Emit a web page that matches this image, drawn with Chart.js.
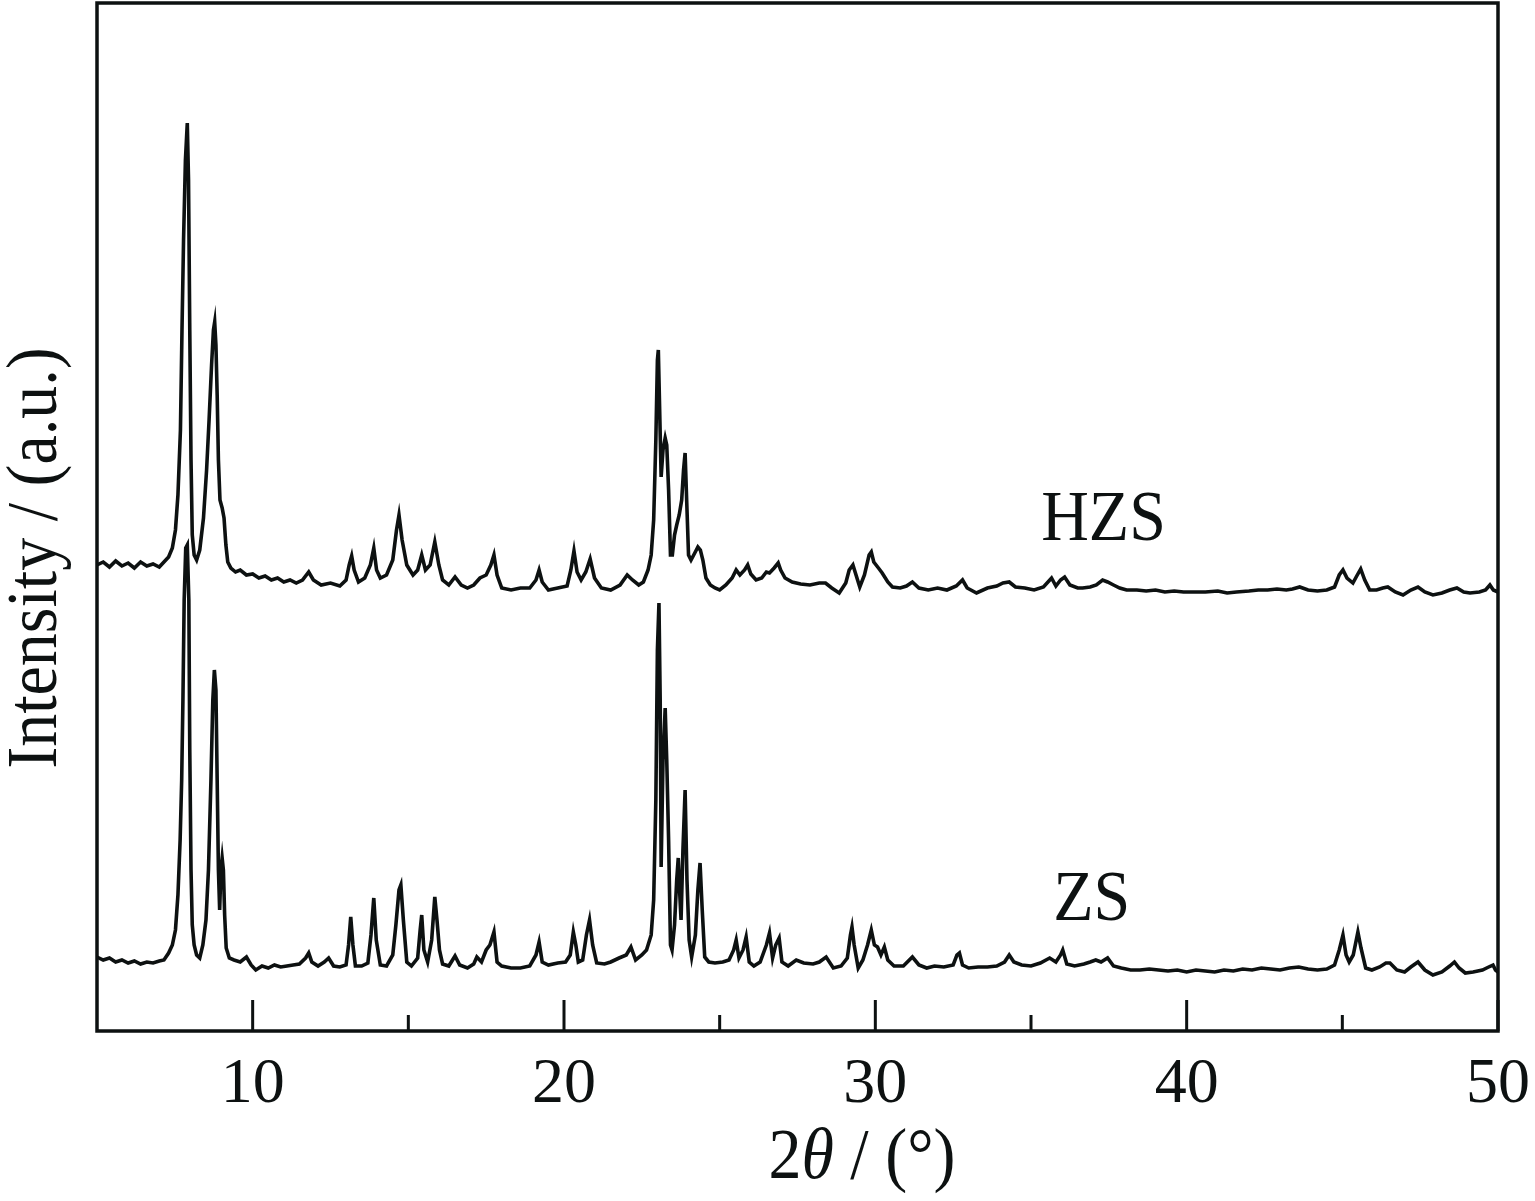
<!DOCTYPE html>
<html>
<head>
<meta charset="utf-8">
<script src="https://cdn.jsdelivr.net/npm/chart.js@4.4.1/dist/chart.umd.min.js"></script>
<style>
  html, body { margin: 0; padding: 0; background: #fff; }
</style>
</head>
<body>
<canvas id="xrdChart" width="1535" height="1201"></canvas>
<script>
// HZS pattern (upper trace), 2theta in degrees / intensity in a.u.
const hzsAngle = [5.0,5.2,5.4,5.6,5.8,6.0,6.2,6.4,6.6,6.8,7.0,7.15,7.3,7.42,7.52,7.6,7.68,7.73,7.78,7.84,7.9,7.94,7.98,8.02,8.06,8.12,8.2,8.3,8.42,8.52,8.6,8.68,8.74,8.78,8.82,8.86,8.9,8.95,9.02,9.08,9.14,9.2,9.3,9.45,9.6,9.8,10.0,10.2,10.4,10.6,10.8,11.0,11.2,11.4,11.6,11.8,11.95,12.2,12.5,12.8,13.0,13.1,13.18,13.26,13.4,13.6,13.78,13.89,13.98,14.1,14.3,14.5,14.62,14.7,14.8,14.95,15.15,15.3,15.43,15.55,15.7,15.85,15.98,16.1,16.3,16.5,16.7,16.9,17.1,17.3,17.5,17.65,17.75,17.85,18.0,18.3,18.6,18.9,19.1,19.2,19.3,19.5,19.8,20.1,20.22,20.32,20.42,20.55,20.7,20.84,20.98,21.2,21.5,21.8,22.03,22.2,22.4,22.55,22.7,22.8,22.88,22.95,23.0,23.03,23.08,23.12,23.18,23.25,23.3,23.36,23.42,23.48,23.55,23.62,23.7,23.78,23.84,23.89,23.94,24.0,24.08,24.2,24.3,24.38,24.46,24.56,24.7,24.85,25.0,25.2,25.4,25.53,25.65,25.8,25.9,26.0,26.17,26.35,26.5,26.6,26.75,26.88,26.96,27.1,27.33,27.6,27.9,28.2,28.4,28.6,28.84,29.05,29.16,29.28,29.38,29.5,29.65,29.8,29.87,29.95,30.1,30.22,30.4,30.55,30.8,31.0,31.19,31.4,31.7,32.0,32.3,32.6,32.8,32.95,33.25,33.6,33.9,34.1,34.3,34.5,34.8,35.1,35.4,35.66,35.8,35.95,36.08,36.25,36.5,36.66,36.9,37.1,37.3,37.46,37.65,37.85,38.07,38.4,38.7,39.0,39.3,39.6,39.9,40.32,40.6,41.0,41.3,41.6,42.0,42.3,42.6,42.9,43.2,43.4,43.63,43.9,44.2,44.5,44.75,44.9,45.02,45.15,45.34,45.48,45.59,45.72,45.88,46.1,46.3,46.46,46.7,46.95,47.2,47.43,47.65,47.91,48.2,48.45,48.68,48.9,49.1,49.4,49.6,49.74,49.85,50.0];
const hzsIntensity = [466,469,464,470,465,468,463,469,465,467,464,469,474,483,501,536,601,701,791,871,908,851,701,571,496,476,471,481,513,561,611,666,701,709,686,636,571,531,523,513,486,469,463,459,461,456,457,453,455,451,453,449,451,448,451,459,451,446,448,445,451,466,475,461,449,453,466,483,461,453,456,471,501,516,491,466,456,461,476,461,466,489,466,451,446,454,446,443,446,453,456,466,476,456,443,441,443,443,451,461,449,441,443,445,461,480,459,451,459,472,453,443,441,446,456,451,446,449,461,476,511,591,671,681,611,554,581,593,586,541,476,476,496,506,516,531,561,578,531,476,471,478,484,481,471,453,446,443,441,446,453,461,456,461,466,457,451,453,459,458,463,468,461,453,449,447,446,448,448,443,438,448,461,466,456,444,456,476,479,469,463,458,449,444,443,445,449,443,441,443,441,445,451,443,438,443,445,448,449,444,443,441,444,453,445,451,454,446,443,443,444,446,451,449,446,443,441,441,440,441,439,440,439,439,439,440,438,439,440,441,441,442,441,442,444,441,440,441,444,456,461,453,448,456,462,451,441,441,443,444,439,436,441,444,439,436,438,441,443,439,438,439,441,446,441,439];

// ZS pattern (lower trace)
const zsAngle = [5.0,5.2,5.4,5.6,5.8,6.0,6.2,6.4,6.6,6.8,7.0,7.15,7.3,7.42,7.52,7.6,7.67,7.72,7.76,7.8,7.85,7.9,7.95,7.98,8.02,8.06,8.12,8.2,8.3,8.4,8.5,8.58,8.66,8.72,8.77,8.82,8.86,8.9,8.94,8.98,9.02,9.06,9.1,9.15,9.25,9.4,9.6,9.8,9.95,10.1,10.3,10.5,10.7,10.9,11.1,11.3,11.5,11.7,11.8,11.9,12.1,12.3,12.44,12.6,12.8,13.0,13.08,13.15,13.22,13.3,13.5,13.7,13.8,13.89,13.97,14.1,14.3,14.5,14.6,14.7,14.76,14.84,14.95,15.1,15.3,15.38,15.43,15.5,15.62,15.75,15.85,15.92,16.0,16.1,16.3,16.5,16.65,16.9,17.1,17.2,17.35,17.5,17.62,17.75,17.85,18.0,18.3,18.6,18.9,19.1,19.2,19.3,19.5,19.8,20.05,20.2,20.3,20.38,20.46,20.6,20.72,20.82,20.92,21.05,21.3,21.5,21.77,22.0,22.15,22.3,22.5,22.65,22.8,22.88,22.95,23.0,23.05,23.09,23.12,23.18,23.25,23.3,23.36,23.42,23.47,23.55,23.62,23.67,23.72,23.76,23.82,23.89,23.95,24.02,24.1,24.22,24.3,24.37,24.44,24.52,24.65,24.85,25.1,25.3,25.45,25.53,25.62,25.75,25.85,25.95,26.1,26.3,26.5,26.6,26.7,26.8,26.91,27.0,27.2,27.46,27.7,28.0,28.2,28.42,28.65,28.9,29.1,29.2,29.25,29.32,29.45,29.6,29.75,29.87,29.97,30.07,30.18,30.29,30.4,30.6,30.9,31.19,31.4,31.65,31.9,32.2,32.5,32.62,32.7,32.8,33.0,33.3,33.6,33.9,34.15,34.3,34.45,34.7,35.0,35.3,35.6,35.8,35.95,36.02,36.15,36.4,36.7,36.9,37.08,37.25,37.46,37.65,37.9,38.2,38.5,38.8,39.1,39.4,39.7,40.0,40.3,40.6,40.9,41.2,41.5,41.8,42.1,42.4,42.7,43.0,43.3,43.6,43.9,44.2,44.5,44.75,44.9,45.02,45.12,45.22,45.35,45.5,45.6,45.75,45.95,46.2,46.4,46.53,46.75,47.0,47.2,47.43,47.65,47.91,48.2,48.45,48.6,48.75,48.95,49.2,49.5,49.7,49.84,49.92,50.0];
const zsIntensity = [74,71,73,69,71,68,70,67,69,68,70,71,78,86,101,136,191,251,331,431,483,486,431,281,161,106,86,76,73,86,111,161,251,331,361,341,251,161,121,161,173,161,116,83,73,71,69,74,66,61,65,63,66,64,65,66,67,73,78,69,65,69,73,65,64,66,86,114,86,65,65,68,96,133,91,66,65,76,106,141,146,111,69,65,73,101,116,81,69,91,134,111,81,67,65,75,66,63,67,74,69,81,86,99,69,65,63,63,65,76,89,69,66,68,69,76,99,86,69,71,96,111,86,68,67,69,73,76,84,71,76,81,96,131,231,381,428,331,164,271,323,271,191,86,81,106,151,173,136,111,181,241,151,91,74,96,141,168,121,74,69,68,69,71,81,91,73,81,94,69,65,69,86,98,73,86,93,69,65,71,68,67,69,74,63,65,73,96,104,86,63,71,86,101,86,84,76,84,71,65,65,74,66,63,65,64,66,76,78,66,63,64,64,65,69,76,69,66,65,68,73,69,76,81,67,65,67,69,71,69,73,65,63,61,61,62,61,60,61,59,61,60,59,61,60,62,61,63,62,61,63,64,62,61,62,66,81,96,76,69,76,99,83,63,61,64,68,68,61,59,64,69,61,56,59,65,69,63,58,59,61,64,66,61,59];

const xTickValues = [10, 20, 30, 40, 50];
const xMinorTicks = [15, 25, 35, 45];
const seriesLabels = [
  { text: 'HZS', x: 37.33, y: 491 },
  { text: 'ZS', x: 36.95, y: 111 }
];

const serif = "'Liberation Serif', 'Times New Roman', serif";
const ink = '#0d1111';

function toPoints(xs, ys) {
  return xs.map((v, i) => ({ x: v, y: ys[i] }));
}

// frame, inward ticks and the text labels
const decorPlugin = {
  id: 'decor',
  afterDraw(chart) {
    const { ctx, chartArea: a, scales } = chart;
    const x = scales.x, y = scales.y;
    ctx.save();
    ctx.strokeStyle = ink;
    ctx.lineWidth = 3.5;
    ctx.strokeRect(a.left, a.top, a.right - a.left, a.bottom - a.top);

    ctx.lineWidth = 3;
    ctx.beginPath();
    xTickValues.forEach(v => {
      const px = x.getPixelForValue(v);
      ctx.moveTo(px, a.bottom);
      ctx.lineTo(px, a.bottom - 31);
    });
    xMinorTicks.forEach(v => {
      const px = x.getPixelForValue(v);
      ctx.moveTo(px, a.bottom);
      ctx.lineTo(px, a.bottom - 16);
    });
    ctx.stroke();

    ctx.fillStyle = ink;
    ctx.textBaseline = 'alphabetic';
    ctx.textAlign = 'center';

    // series names
    seriesLabels.forEach(l => {
      const px = x.getPixelForValue(l.x);
      const py = y.getPixelForValue(l.y);
      ctx.save();
      ctx.translate(px, py);
      ctx.scale(1, 1.1);
      ctx.font = '66px ' + serif;
      ctx.fillText(l.text, 0, 0);
      ctx.restore();
    });

    // x title: 2θ / (°) with italic theta
    ctx.save();
    ctx.translate(862, 1178);
    ctx.scale(1, 1.1);
    ctx.textAlign = 'left';
    const parts = [
      { t: '2', f: '66px ' + serif },
      { t: 'θ', f: 'italic 66px ' + serif },
      { t: ' / (°)', f: '66px ' + serif }
    ];
    let total = 0;
    parts.forEach(p => { ctx.font = p.f; p.w = ctx.measureText(p.t).width; total += p.w; });
    let cx = -total / 2;
    parts.forEach(p => { ctx.font = p.f; ctx.fillText(p.t, cx, 0); cx += p.w; });
    ctx.restore();

    // y title
    ctx.save();
    ctx.translate(56, 558);
    ctx.rotate(-Math.PI / 2);
    ctx.scale(1, 1.1);
    ctx.font = '66px ' + serif;
    ctx.textAlign = 'center';
    ctx.fillText('Intensity / (a.u.)', 0, 0);
    ctx.restore();

    ctx.restore();
  }
};

const lineStyle = {
  borderColor: ink,
  borderWidth: 3.6,
  borderJoinStyle: 'miter',
  pointRadius: 0,
  tension: 0,
  fill: false
};

const ctx = document.getElementById('xrdChart').getContext('2d');
const xrdChart = new Chart(ctx, {
  type: 'line',
  data: {
    datasets: [
      Object.assign({ label: 'HZS', data: toPoints(hzsAngle, hzsIntensity) }, lineStyle),
      Object.assign({ label: 'ZS', data: toPoints(zsAngle, zsIntensity) }, lineStyle)
    ]
  },
  options: {
    responsive: false,
    devicePixelRatio: 1,
    animation: false,
    layout: { padding: { left: 97, right: 37, top: 3, bottom: 0 } },
    plugins: {
      legend: { display: false },
      tooltip: { enabled: false }
    },
    scales: {
      x: {
        type: 'linear',
        min: 5,
        max: 50,
        afterBuildTicks: s => { s.ticks = xTickValues.map(v => ({ value: v })); },
        afterFit: s => { s.height = 170; s.paddingLeft = 0; s.paddingRight = 0; },
        grid: { display: false, drawTicks: false },
        border: { display: false },
        ticks: {
          color: ink,
          padding: 16,
          maxRotation: 0,
          autoSkip: false,
          font: { family: serif, size: 64 }
        }
      },
      y: {
        type: 'linear',
        min: 0,
        max: 1028,
        display: false
      }
    }
  },
  plugins: [decorPlugin]
});
</script>
</body>
</html>
